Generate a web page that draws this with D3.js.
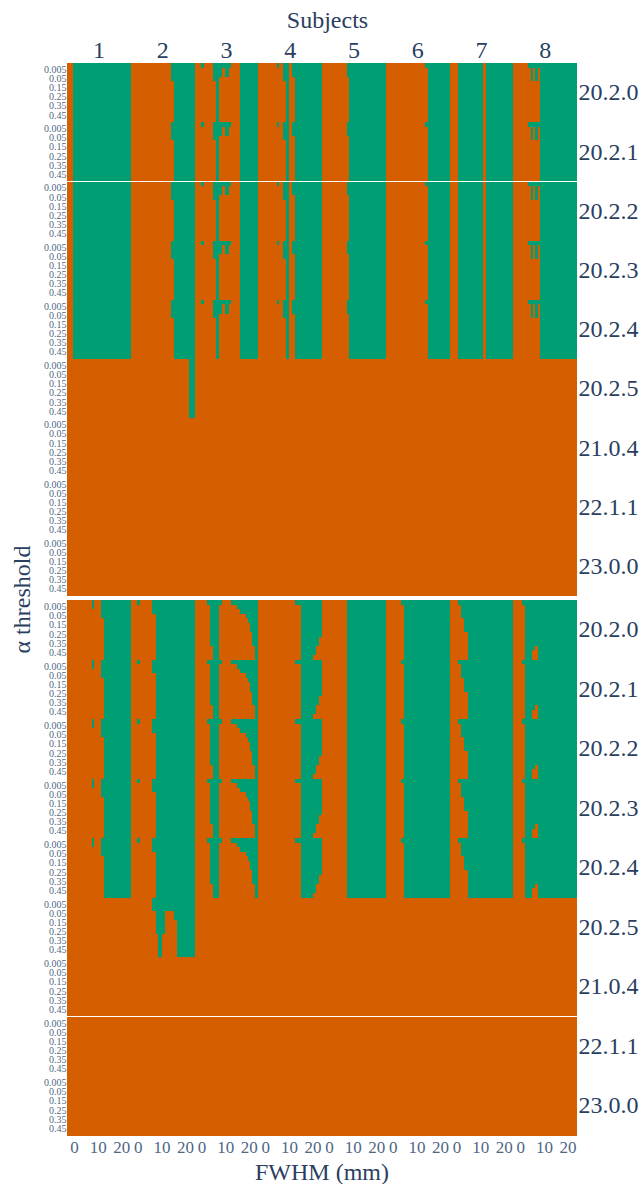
<!DOCTYPE html>
<html>
<head>
<meta charset="utf-8">
<script src="https://cdn.jsdelivr.net/npm/d3@7"></script>
<style>
  body { margin: 0; background: #fff; }
  text { font-family: "Liberation Serif", "Times New Roman", serif; fill: #2a3f5f; }
</style>
</head>
<body>
<svg id="chart" width="642" height="1184"></svg>
<script>
const versions = ["20.2.0", "20.2.1", "20.2.2", "20.2.3", "20.2.4", "20.2.5", "21.0.4", "22.1.1", "23.0.0"];
const alphas = [0.001, 0.005, 0.01, 0.05, 0.1, 0.15, 0.2, 0.25, 0.3, 0.35, 0.4, 0.45, 0.5];
const subjects = ["1", "2", "3", "4", "5", "6", "7", "8"];
const fwhmDomain = [-3, 24];
const fwhmTicks = [0, 10, 20];

// passing (green) FWHM ranges per subject, for versions 20.2.0 - 20.2.4
// entry: [first alpha index, last alpha index, [[fwhm from, fwhm to], ...]]
const topPass = [
  [[0, 12, [[-0.5, 24]]]],
  [[0, 3, [[14, 24]]], [4, 12, [[15.2, 24]]]],
  [[0, 0, [[-0.25, 0.9], [5, 12.5], [16.3, 24]]], [1, 2, [[5, 8.65], [10.05, 11.5], [16.3, 24]]],
   [3, 3, [[5, 7.5], [16.3, 24]]], [4, 12, [[6.1, 7.5], [16.3, 24]]]],
  [[0, 0, [[4.95, 5.9], [7.35, 9.9], [11.3, 24]]], [1, 2, [[7.35, 9.9], [11.3, 24]]],
   [3, 3, [[7.35, 9.9], [12.7, 24]]], [4, 12, [[8.6, 9.9], [12.7, 24]]]],
  [[0, 2, [[7.45, 24]]], [3, 12, [[8.55, 24]]]],
  [[0, 0, [[13.75, 24]]], [1, 12, [[14.9, 24]]]],
  [[0, 12, [[0.6, 11.2], [12.35, 24]]]],
  [[0, 0, [[3.35, 24]]], [1, 3, [[4.5, 5.5], [6.2, 7.3], [8.35, 24]]], [4, 12, [[8.35, 24]]]]
];
// version 20.2.5 (only subject 2 passes anything)
const top2025 = [[], [[0, 12, [[21.7, 24]]]], [], [], [], [], [], []];

const bottomPass = [
  [[0, 1, [[7.45, 8.55]]], [0, 3, [[11.4, 24]]], [4, 12, [[12.55, 24]]]],
  [[0, 0, [[-0.35, 0.9]]], [0, 2, [[6.1, 24]]], [3, 12, [[7.55, 24]]]],
  [[0, 0, [[2.3, 8.5], [12.6, 24]]], [1, 1, [[3.55, 7.5], [15.1, 24]]], [2, 2, [[3.55, 7.5], [16.4, 24]]],
   [3, 3, [[3.55, 7.5], [18.8, 24]]], [4, 4, [[3.55, 7.5], [19.8, 24]]], [5, 6, [[3.55, 7.5], [20.6, 24]]],
   [7, 9, [[3.55, 7.5], [21.5, 24]]], [10, 12, [[4.95, 7.5], [22.75, 24]]]],
  [[0, 0, [[12.55, 24]]], [1, 7, [[15.1, 24]]], [8, 9, [[15.1, 22.85]]], [10, 11, [[15.1, 21.45]]], [12, 12, [[15.1, 20.3]]]],
  [[0, 12, [[7.45, 24]]]],
  [[0, 0, [[3.45, 24]]], [1, 12, [[4.85, 24]]]],
  [[0, 0, [[0.6, 24]]], [1, 3, [[2, 24]]], [4, 6, [[3.15, 24]]], [7, 12, [[4.7, 24]]]],
  [[0, 0, [[0.85, 24]]], [1, 9, [[2, 24]]], [10, 10, [[2, 6.1], [7.35, 24]]], [11, 12, [[2, 4.8], [7.35, 24]]]]
];
const bottom2025 = [[], [[0, 2, [[6.1, 24]]], [3, 4, [[7.55, 11.5], [15.2, 24]]], [5, 7, [[7.55, 11.5], [16.6, 24]]],
  [8, 12, [[8.55, 10.1], [16.6, 24]]]], [], [], [], [], [], []];

const ORANGE = "#D55E00", GREEN = "#009E73";

const svg = d3.select("#chart");
const plotLeft = 67, plotRight = 577;

const panels = [
  {top: 63, bottom: 596, pass: topPass, extra: top2025, sep: "20.2.2"},
  {top: 600, bottom: 1135.5, pass: bottomPass, extra: bottom2025, sep: "22.1.1"}
];

const xSub = d3.scaleBand().domain(subjects).range([plotLeft, plotRight]);
const fwhmScale = s => d3.scaleLinear().domain(fwhmDomain).range([xSub(s), xSub(s) + xSub.bandwidth()]);

const rowKeys = versions.flatMap(v => alphas.map(a => v + "|" + a));

panels.forEach(p => {
  const y = d3.scaleBand().domain(rowKeys).range([p.top, p.bottom]);
  const yv = d3.scaleBand().domain(versions).range([p.top, p.bottom]);
  const g = svg.append("g").attr("shape-rendering", "crispEdges");

  subjects.forEach((s, si) => {
    const x = fwhmScale(s);
    g.append("rect")
      .attr("x", x(fwhmDomain[0])).attr("width", x(fwhmDomain[1]) - x(fwhmDomain[0]))
      .attr("y", p.top).attr("height", p.bottom - p.top)
      .attr("fill", ORANGE);

    const cells = [];
    versions.forEach((v, vi) => {
      const rules = vi < 5 ? p.pass[si] : (vi === 5 ? p.extra[si] : []);
      rules.forEach(([a0, a1, ranges]) => {
        ranges.forEach(([f0, f1]) => cells.push({
          y0: y(v + "|" + alphas[a0]), y1: y(v + "|" + alphas[a1]) + y.bandwidth(), f0, f1
        }));
      });
    });
    g.selectAll(null).data(cells).join("rect")
      .attr("x", d => x(d.f0)).attr("width", d => x(d.f1) - x(d.f0))
      .attr("y", d => d.y0).attr("height", d => d.y1 - d.y0)
      .attr("fill", GREEN);
  });

  g.append("line")
    .attr("x1", plotLeft).attr("x2", plotRight)
    .attr("y1", yv(p.sep)).attr("y2", yv(p.sep))
    .attr("stroke", "#fff").attr("stroke-width", 1);

  // alpha ticks, every other row
  const leftAxis = svg.append("g").attr("transform", `translate(${plotLeft},0)`)
    .call(d3.axisLeft(y)
      .tickValues(rowKeys.filter((k, i) => (i % alphas.length) % 2 === 1))
      .tickFormat(k => k.split("|")[1])
      .tickSize(0).tickPadding(0.5));
  leftAxis.select(".domain").remove();
  leftAxis.selectAll("text").attr("font-size", 10).attr("font-family", null).style("fill", "#506784");

  const rightAxis = svg.append("g").attr("transform", `translate(${plotRight},0)`)
    .call(d3.axisRight(yv).tickSize(0).tickPadding(1.5));
  rightAxis.select(".domain").remove();
  rightAxis.selectAll("text").attr("font-size", 24).attr("font-family", null);
});

// subject labels on top
const topAxis = svg.append("g").attr("transform", `translate(0,${panels[0].top})`)
  .call(d3.axisTop(xSub).tickSize(0).tickPadding(5.5));
topAxis.select(".domain").remove();
topAxis.selectAll("text").attr("font-size", 24).attr("font-family", null);

// FWHM ticks under each subject
subjects.forEach(s => {
  const ax = svg.append("g").attr("transform", `translate(0,${panels[1].bottom})`)
    .call(d3.axisBottom(fwhmScale(s)).tickValues(fwhmTicks).tickSize(0).tickPadding(5));
  ax.select(".domain").remove();
  ax.selectAll("text").attr("font-size", 17).attr("font-family", null).style("fill", "#506784");
});

svg.append("text").attr("x", 327.5).attr("y", 27.5).attr("text-anchor", "middle")
  .attr("font-size", 24).text("Subjects");
svg.append("text").attr("x", 322).attr("y", 1180).attr("text-anchor", "middle")
  .attr("font-size", 24).text("FWHM (mm)");
svg.append("text").attr("transform", "translate(30,599.5) rotate(-90)").attr("text-anchor", "middle")
  .attr("font-size", 24).text("α threshold");
</script>
</body>
</html>
